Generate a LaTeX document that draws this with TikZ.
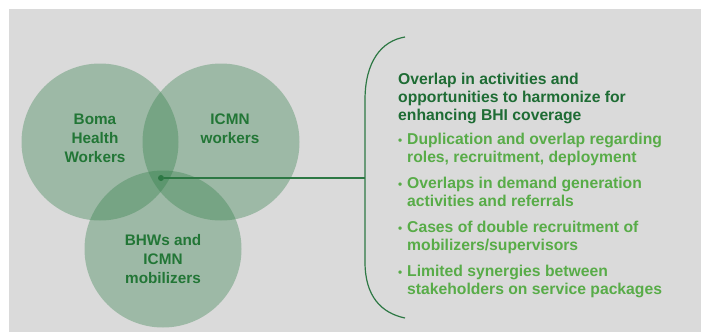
\documentclass[tikz,border=0pt]{standalone}
\usepackage{fontspec}
\setmainfont{Liberation Sans}
\usetikzlibrary{positioning}

\definecolor{bggray}{RGB}{218,218,218}
\definecolor{vennfill}{RGB}{46,125,70}
\definecolor{venntext}{RGB}{34,118,54}
\definecolor{headgreen}{RGB}{30,108,52}
\definecolor{itemgreen}{RGB}{88,172,72}
\definecolor{linkgreen}{RGB}{45,120,68}

\tikzset{
    venn/.style={circle, fill=vennfill, fill opacity=0.35, minimum size=157pt, inner sep=0pt},
    vennlabel/.style={align=center, text=venntext, font=\fontsize{15.3}{19}\selectfont\bfseries},
    headtext/.style={align=left, text=headgreen, inner sep=0pt, font=\fontsize{15.7}{18}\selectfont\bfseries},
    itemtext/.style={align=left, text=itemgreen, inner sep=0pt, font=\fontsize{15.7}{18}\selectfont\bfseries},
}
\newcommand{\itemdot}{\makebox[9pt][l]{\scalebox{0.75}{\textbullet}}}

\begin{document}
\begin{tikzpicture}[x=1pt, y=-1pt]
    \useasboundingbox (0,0) rectangle (701,332);
    \fill[bggray] (9,9) rectangle (701,332);

    % The three circles
    \node[venn] (bhw) at (100,142) {};
    \node[venn] (icmn) at (221,142) {};
    \node[venn] (mob) at (163,249) {};

    % Circle labels
    \node[vennlabel] (bhwlabel) at (95,138) {Boma\\Health\\Workers};
    \node[vennlabel] (icmnlabel) at (230,129) {ICMN\\workers};
    \node[vennlabel] (moblabel) at (163,259) {BHWs and\\ICMN\\mobilizers};

    % Centre point and the bracket
    \node[circle, fill=linkgreen, inner sep=0pt, minimum size=6pt] (centre) at (161,178) {};
    \coordinate (bracemid) at (365,178);
    \draw[linkgreen, line width=1.2pt] (405,37) .. controls (381,41) and (365,62) .. (365,100)
        -- (365,262) .. controls (365,296) and (381,313) .. (405,318);
    \draw[linkgreen, line width=1.2pt] (centre) -- (bracemid);

    % Text on the right
    \node[headtext, anchor=north west] (head) at (398,73)
        {Overlap in activities and\\opportunities to harmonize for\\enhancing BHI coverage};
    \node[itemtext, below=9pt of head.south west, anchor=north west] (items)
        {\itemdot Duplication and overlap regarding\\\hspace*{9pt}roles, recruitment, deployment\\[8pt]
         \itemdot Overlaps in demand generation\\\hspace*{9pt}activities and referrals\\[8pt]
         \itemdot Cases of double recruitment of\\\hspace*{9pt}mobilizers/supervisors\\[8pt]
         \itemdot Limited synergies between\\\hspace*{9pt}stakeholders on service packages};
\end{tikzpicture}
\end{document}
